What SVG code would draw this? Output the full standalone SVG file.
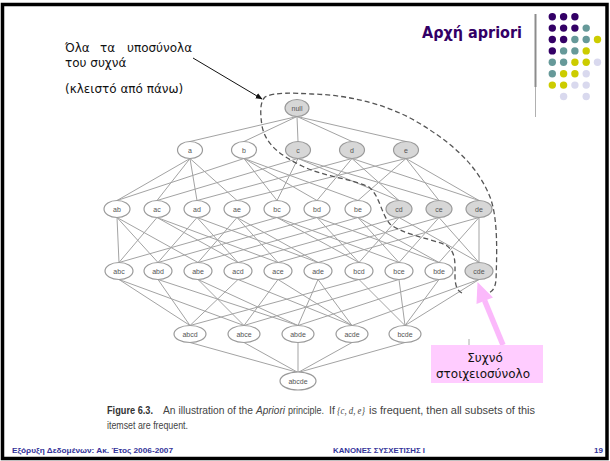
<svg xmlns="http://www.w3.org/2000/svg" width="610" height="461" viewBox="0 0 610 461">
  <style>
    .edge { stroke: #a3a3a3; stroke-width: 1; fill: none; }
    .node ellipse { fill: #ffffff; stroke: #9a9a9a; stroke-width: 1.2; }
    .node.freq ellipse { fill: #d7d7d7; }
    .node text { font-family: "Liberation Sans", Arial, sans-serif; font-size: 7px; fill: #555555; text-anchor: middle; }
    .note { font-family: "DejaVu Sans", "Noto Sans", sans-serif; font-size: 12px; fill: #111111; }
    .cap { font-family: "Liberation Sans", Arial, sans-serif; font-size: 10.5px; fill: #444444; }
    .foot { font-family: "Liberation Sans", Arial, sans-serif; font-size: 8px; font-weight: bold; fill: #333399; }
    .d-purple { fill: #330066; }
    .d-teal { fill: #669999; }
    .d-yellow { fill: #cccc00; }
    .d-lav { fill: #d9d9ee; }
  </style>
  <defs>
    <marker id="blackHead" viewBox="0 0 10 10" refX="9" refY="5" markerWidth="7" markerHeight="7" orient="auto" markerUnits="userSpaceOnUse">
      <path d="M0,1 L10,5 L0,9 Z" fill="#111111"/>
    </marker>
  </defs>

  <rect width="610" height="461" fill="#ffffff"/>
  <!-- slide frame -->
  <rect x="2.5" y="4.5" width="604.5" height="454" fill="none" stroke="#000000" stroke-width="3.5"/>

  <!-- title and decoration -->
  <text x="422" y="38" font-family="DejaVu Sans, sans-serif" font-size="16" font-weight="bold" fill="#330066" textLength="100" lengthAdjust="spacingAndGlyphs">Αρχή apriori</text>
  <line x1="535.5" y1="14" x2="535.5" y2="87" stroke="#8c8c8c" stroke-width="2"/>
  <line x1="535.5" y1="87" x2="535.5" y2="117" stroke="#b0b0b0" stroke-width="1"/>
  <g id="dots">
    <circle class="d-purple" cx="552.3" cy="16.7" r="3.7"/>
    <circle class="d-purple" cx="563.6" cy="16.7" r="3.7"/>
    <circle class="d-purple" cx="574.9" cy="16.7" r="3.7"/>

    <circle class="d-purple" cx="552.3" cy="28.1" r="3.7"/>
    <circle class="d-purple" cx="563.6" cy="28.1" r="3.7"/>
    <circle class="d-purple" cx="574.9" cy="28.1" r="3.7"/>
    <circle class="d-teal" cx="586.2" cy="28.1" r="3.7"/>

    <circle class="d-purple" cx="552.3" cy="39.5" r="3.7"/>
    <circle class="d-purple" cx="563.6" cy="39.5" r="3.7"/>
    <circle class="d-teal" cx="574.9" cy="39.5" r="3.7"/>
    <circle class="d-teal" cx="586.2" cy="39.5" r="3.7"/>
    <circle class="d-yellow" cx="597.5" cy="39.5" r="3.7"/>

    <circle class="d-purple" cx="552.3" cy="50.9" r="3.7"/>
    <circle class="d-teal" cx="563.6" cy="50.9" r="3.7"/>
    <circle class="d-teal" cx="574.9" cy="50.9" r="3.7"/>
    <circle class="d-yellow" cx="586.2" cy="50.9" r="3.7"/>

    <circle class="d-teal" cx="552.3" cy="62.3" r="3.7"/>
    <circle class="d-teal" cx="563.6" cy="62.3" r="3.7"/>
    <circle class="d-yellow" cx="574.9" cy="62.3" r="3.7"/>
    <circle class="d-yellow" cx="586.2" cy="62.3" r="3.7"/>
    <circle class="d-lav" cx="597.5" cy="62.3" r="3.7"/>

    <circle class="d-teal" cx="552.3" cy="73.7" r="3.7"/>
    <circle class="d-yellow" cx="563.6" cy="73.7" r="3.7"/>
    <circle class="d-yellow" cx="574.9" cy="73.7" r="3.7"/>
    <circle class="d-lav" cx="586.2" cy="73.7" r="3.7"/>

    <circle class="d-yellow" cx="552.3" cy="85.1" r="3.7"/>
    <circle class="d-yellow" cx="563.6" cy="85.1" r="3.7"/>
    <circle class="d-lav" cx="574.9" cy="85.1" r="3.7"/>
    <circle class="d-lav" cx="586.2" cy="85.1" r="3.7"/>

    <circle class="d-lav" cx="563.6" cy="96.5" r="3.7"/>
    <circle class="d-lav" cx="586.2" cy="96.5" r="3.7"/>
  </g>

  <!-- annotation, top left -->
  <text class="note" y="52"><tspan x="65">Όλα</tspan><tspan x="100">τα</tspan><tspan x="127">υποσύνολα</tspan></text>
  <text class="note" x="65" y="67">του συχνά</text>
  <text class="note" x="65" y="93">(κλειστό από πάνω)</text>
  <line x1="193" y1="58" x2="262" y2="99" stroke="#111111" stroke-width="1" marker-end="url(#blackHead)"/>

  <!-- lattice connectors -->
  <g id="connectors" class="edge">
    <!-- null -> singletons -->
    <path d="M297,116.5 L190,141.5 M297,116.5 L244,141.5 M297,116.5 L298,141.5 M297,116.5 L352,141.5 M297,116.5 L406,141.5"/>
    <!-- singletons -> pairs -->
    <path d="M190,158.5 L117,200.5 M190,158.5 L157,200.5 M190,158.5 L197,200.5 M190,158.5 L237,200.5
             M244,158.5 L117,200.5 M244,158.5 L277,200.5 M244,158.5 L317,200.5 M244,158.5 L358,200.5
             M298,158.5 L157,200.5 M298,158.5 L277,200.5 M298,158.5 L399,200.5 M298,158.5 L439,200.5
             M352,158.5 L197,200.5 M352,158.5 L317,200.5 M352,158.5 L399,200.5 M352,158.5 L479,200.5
             M406,158.5 L237,200.5 M406,158.5 L358,200.5 M406,158.5 L439,200.5 M406,158.5 L479,200.5"/>
    <!-- pairs -> triples -->
    <path d="M117,217.5 L119,262.5 M157,217.5 L119,262.5 M277,217.5 L119,262.5
             M117,217.5 L158,262.5 M197,217.5 L158,262.5 M317,217.5 L158,262.5
             M117,217.5 L198,262.5 M237,217.5 L198,262.5 M358,217.5 L198,262.5
             M157,217.5 L238,262.5 M197,217.5 L238,262.5 M399,217.5 L238,262.5
             M157,217.5 L278,262.5 M237,217.5 L278,262.5 M439,217.5 L278,262.5
             M197,217.5 L318,262.5 M237,217.5 L318,262.5 M479,217.5 L318,262.5
             M277,217.5 L359,262.5 M317,217.5 L359,262.5 M399,217.5 L359,262.5
             M277,217.5 L399,262.5 M358,217.5 L399,262.5 M439,217.5 L399,262.5
             M317,217.5 L439,262.5 M358,217.5 L439,262.5 M479,217.5 L439,262.5
             M399,217.5 L479,262.5 M439,217.5 L479,262.5 M479,217.5 L479,262.5"/>
    <!-- triples -> quadruples -->
    <path d="M119,279.5 L190,325.5 M158,279.5 L190,325.5 M238,279.5 L190,325.5 M359,279.5 L190,325.5
             M119,279.5 L244,325.5 M198,279.5 L244,325.5 M278,279.5 L244,325.5 M399,279.5 L244,325.5
             M158,279.5 L298,325.5 M198,279.5 L298,325.5 M318,279.5 L298,325.5 M439,279.5 L298,325.5
             M238,279.5 L352,325.5 M278,279.5 L352,325.5 M318,279.5 L352,325.5 M479,279.5 L352,325.5
             M359,279.5 L405,325.5 M399,279.5 L405,325.5 M439,279.5 L405,325.5 M479,279.5 L405,325.5"/>
    <!-- quadruples -> full set -->
    <path d="M190,342.5 L298,372.5 M244,342.5 L298,372.5 M298,342.5 L298,372.5 M352,342.5 L298,372.5 M405,342.5 L298,372.5"/>
  </g>

  <!-- lattice nodes -->
  <g id="n-null" class="node freq"><ellipse cx="297" cy="108" rx="12" ry="8.5"/><text x="297" y="110.5">null</text></g>

  <g id="n-a" class="node"><ellipse cx="190" cy="150" rx="12.5" ry="8.5"/><text x="190" y="152.5">a</text></g>
  <g id="n-b" class="node"><ellipse cx="244" cy="150" rx="12.5" ry="8.5"/><text x="244" y="152.5">b</text></g>
  <g id="n-c" class="node freq"><ellipse cx="298" cy="150" rx="12.5" ry="8.5"/><text x="298" y="152.5">c</text></g>
  <g id="n-d" class="node freq"><ellipse cx="352" cy="150" rx="12.5" ry="8.5"/><text x="352" y="152.5">d</text></g>
  <g id="n-e" class="node freq"><ellipse cx="406" cy="150" rx="12.5" ry="8.5"/><text x="406" y="152.5">e</text></g>

  <g id="n-ab" class="node"><ellipse cx="117" cy="209" rx="13" ry="8.5"/><text x="117" y="211.5">ab</text></g>
  <g id="n-ac" class="node"><ellipse cx="157" cy="209" rx="13" ry="8.5"/><text x="157" y="211.5">ac</text></g>
  <g id="n-ad" class="node"><ellipse cx="197" cy="209" rx="13" ry="8.5"/><text x="197" y="211.5">ad</text></g>
  <g id="n-ae" class="node"><ellipse cx="237" cy="209" rx="13" ry="8.5"/><text x="237" y="211.5">ae</text></g>
  <g id="n-bc" class="node"><ellipse cx="277" cy="209" rx="13" ry="8.5"/><text x="277" y="211.5">bc</text></g>
  <g id="n-bd" class="node"><ellipse cx="317" cy="209" rx="13" ry="8.5"/><text x="317" y="211.5">bd</text></g>
  <g id="n-be" class="node"><ellipse cx="358" cy="209" rx="13" ry="8.5"/><text x="358" y="211.5">be</text></g>
  <g id="n-cd" class="node freq"><ellipse cx="399" cy="209" rx="13" ry="8.5"/><text x="399" y="211.5">cd</text></g>
  <g id="n-ce" class="node freq"><ellipse cx="439" cy="209" rx="13" ry="8.5"/><text x="439" y="211.5">ce</text></g>
  <g id="n-de" class="node freq"><ellipse cx="479" cy="209" rx="13" ry="8.5"/><text x="479" y="211.5">de</text></g>

  <g id="n-abc" class="node"><ellipse cx="119" cy="271" rx="14" ry="8.5"/><text x="119" y="273.5">abc</text></g>
  <g id="n-abd" class="node"><ellipse cx="158" cy="271" rx="14" ry="8.5"/><text x="158" y="273.5">abd</text></g>
  <g id="n-abe" class="node"><ellipse cx="198" cy="271" rx="14" ry="8.5"/><text x="198" y="273.5">abe</text></g>
  <g id="n-acd" class="node"><ellipse cx="238" cy="271" rx="14" ry="8.5"/><text x="238" y="273.5">acd</text></g>
  <g id="n-ace" class="node"><ellipse cx="278" cy="271" rx="14" ry="8.5"/><text x="278" y="273.5">ace</text></g>
  <g id="n-ade" class="node"><ellipse cx="318" cy="271" rx="14" ry="8.5"/><text x="318" y="273.5">ade</text></g>
  <g id="n-bcd" class="node"><ellipse cx="359" cy="271" rx="14" ry="8.5"/><text x="359" y="273.5">bcd</text></g>
  <g id="n-bce" class="node"><ellipse cx="399" cy="271" rx="14" ry="8.5"/><text x="399" y="273.5">bce</text></g>
  <g id="n-bde" class="node"><ellipse cx="439" cy="271" rx="14" ry="8.5"/><text x="439" y="273.5">bde</text></g>
  <g id="n-cde" class="node freq"><ellipse cx="479" cy="271" rx="14" ry="8.5"/><text x="479" y="273.5">cde</text></g>

  <g id="n-abcd" class="node"><ellipse cx="190" cy="334" rx="16" ry="8.5"/><text x="190" y="336.5">abcd</text></g>
  <g id="n-abce" class="node"><ellipse cx="244" cy="334" rx="16" ry="8.5"/><text x="244" y="336.5">abce</text></g>
  <g id="n-abde" class="node"><ellipse cx="298" cy="334" rx="16" ry="8.5"/><text x="298" y="336.5">abde</text></g>
  <g id="n-acde" class="node"><ellipse cx="352" cy="334" rx="16" ry="8.5"/><text x="352" y="336.5">acde</text></g>
  <g id="n-bcde" class="node"><ellipse cx="405" cy="334" rx="16" ry="8.5"/><text x="405" y="336.5">bcde</text></g>

  <g id="n-abcde" class="node"><ellipse cx="298" cy="381" rx="18" ry="9"/><text x="298" y="383.5">abcde</text></g>

  <!-- boundary of the frequent itemset's subsets -->
  <path id="boundary" d="M462,293 C457,291 455,285 455,276 C455,262 456,252 446,245 C428,238 402,234 390,224 C381,214 380,196 369,187 C352,179 322,176 302,166 C282,156 266,146 262,126 C260,112 260,102 265,97 C275,92 292,93 312,94 C347,95 382,103 412,119 C447,139 476,162 490,197 C498,218 497,252 496,280 C495,289 492,292 488,293" fill="none" stroke="#555555" stroke-width="1.3" stroke-dasharray="5 3"/>

  <line x1="469" y1="339" x2="469" y2="346" stroke="#aaaaaa" stroke-width="1"/>

  <!-- callout -->
  <g id="callout">
    <line x1="484.6" y1="300.5" x2="503" y2="345" stroke="#fbb9fb" stroke-width="5.5"/>
    <polygon points="477.5,282 476.5,304 493,297.5" fill="#fbb9fb"/>
    <rect x="431" y="345" width="112" height="38" fill="#ffccff"/>
    <text class="note" x="485" y="362" text-anchor="middle">Συχνό</text>
    <text class="note" x="483" y="378" text-anchor="middle">στοιχειοσύνολο</text>
  </g>

  <!-- figure caption -->
  <text class="cap" y="414"><tspan x="107" font-weight="bold" fill="#333333" textLength="46" lengthAdjust="spacingAndGlyphs">Figure 6.3.</tspan><tspan x="163" textLength="90" lengthAdjust="spacingAndGlyphs">An illustration of the</tspan><tspan x="256" font-style="italic" textLength="29" lengthAdjust="spacingAndGlyphs">Apriori</tspan><tspan x="288" textLength="36" lengthAdjust="spacingAndGlyphs">principle.</tspan><tspan x="329">If</tspan><tspan x="337" font-family="Liberation Serif, serif" font-style="italic" textLength="28" lengthAdjust="spacingAndGlyphs">{c, d, e}</tspan><tspan x="369" textLength="166" lengthAdjust="spacingAndGlyphs">is frequent, then all subsets of this</tspan></text>
  <text class="cap" x="107" y="429" textLength="81" lengthAdjust="spacingAndGlyphs">itemset are frequent.</text>

  <!-- footer -->
  <text class="foot" x="12" y="453" textLength="161" lengthAdjust="spacingAndGlyphs">Εξόρυξη Δεδομένων: Ακ. Έτος 2006-2007</text>
  <text class="foot" x="333" y="453" textLength="92" lengthAdjust="spacingAndGlyphs">ΚΑΝΟΝΕΣ ΣΥΣΧΕΤΙΣΗΣ Ι</text>
  <text class="foot" x="603" y="453" text-anchor="end">19</text>
</svg>
